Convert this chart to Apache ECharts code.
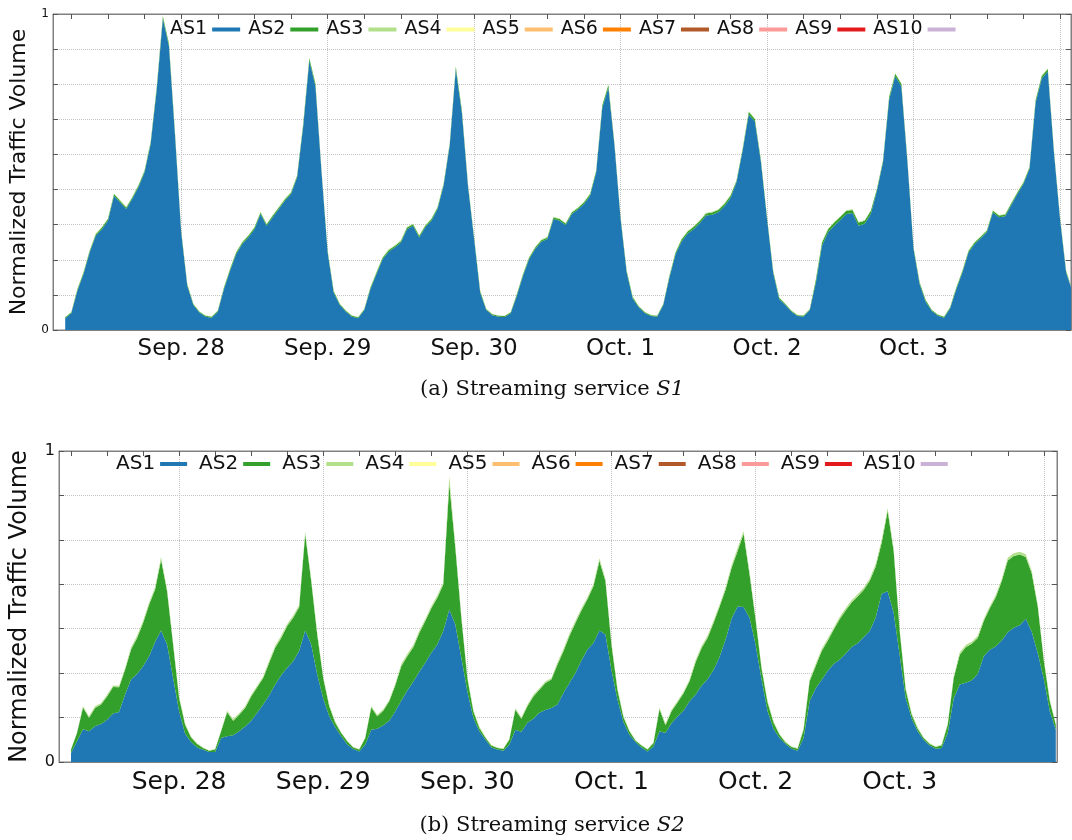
<!DOCTYPE html>
<html>
<head>
<meta charset="utf-8">
<script src="https://cdn.jsdelivr.net/npm/echarts@6/dist/echarts.min.js"></script>
<style>
  html, body { margin: 0; padding: 0; background: #fff; }
  #chart { width: 1072px; height: 840px; }
</style>
</head>
<body>
<div id="chart"></div>
<script>
// Legend names and the paired palette used for the ten origin ASes
const asNames = ['AS1', 'AS2', 'AS3', 'AS4', 'AS5', 'AS6', 'AS7', 'AS8', 'AS9', 'AS10'];
const asColors = ['#1f78b4', '#33a02c', '#b2df8a', '#ffff99', '#fdbf6f',
                  '#ff7f00', '#b15928', '#fb9a99', '#e31a1c', '#cab2d6'];

// Time axis: hours relative to Sep. 28 00:00
const dayLabels = ['Sep. 28', 'Sep. 29', 'Sep. 30', 'Oct. 1', 'Oct. 2', 'Oct. 3'];
const dayHours = [0, 24, 48, 72, 96, 120];
const gridHours = [0, 24, 48, 72, 96, 120, 144];
const quarterHours = [-18, -12, -6, 0, 6, 12, 18, 24, 30, 36, 42, 48, 54, 60, 66, 72, 78, 84,
                      90, 96, 102, 108, 114, 120, 126, 132, 138, 144];

// ---- Streaming service S1: hourly samples starting at hour -19 ----
const s1Start = -19;
const s1As1 = [
  0.037,0.053,0.124,0.177,0.245,0.298,0.319,0.346,0.425,0.404,
  0.383,0.415,0.452,0.499,0.589,0.761,0.985,0.898,0.613,0.309,
  0.140,0.079,0.055,0.042,0.039,0.058,0.129,0.187,0.240,0.272,
  0.293,0.319,0.367,0.330,0.357,0.383,0.409,0.430,0.483,0.645,
  0.852,0.771,0.499,0.245,0.118,0.079,0.058,0.042,0.037,0.063,
  0.129,0.177,0.224,0.248,0.261,0.277,0.319,0.330,0.293,0.325,
  0.346,0.383,0.457,0.584,0.825,0.687,0.455,0.288,0.118,0.063,
  0.047,0.042,0.041,0.053,0.108,0.171,0.224,0.256,0.279,0.288,
  0.351,0.346,0.332,0.367,0.381,0.399,0.425,0.499,0.703,0.767,
  0.584,0.351,0.182,0.099,0.071,0.053,0.044,0.042,0.079,0.166,
  0.240,0.280,0.305,0.320,0.339,0.362,0.365,0.373,0.392,0.418,
  0.468,0.568,0.682,0.660,0.531,0.351,0.182,0.097,0.079,0.058,
  0.044,0.043,0.063,0.150,0.267,0.309,0.330,0.348,0.367,0.370,
  0.330,0.336,0.367,0.441,0.531,0.729,0.803,0.771,0.531,0.256,
  0.145,0.089,0.060,0.045,0.039,0.069,0.129,0.182,0.245,0.272,
  0.290,0.309,0.372,0.357,0.360,0.395,0.430,0.462,0.510,0.719,
  0.795,0.818,0.563,0.351,0.182,0.124
];
const s1As2 = [
  0.003,0.003,0.005,0.005,0.005,0.005,0.005,0.005,0.005,0.005,
  0.005,0.005,0.005,0.005,0.005,0.008,0.008,0.008,0.008,0.005,
  0.005,0.003,0.003,0.003,0.003,0.003,0.005,0.005,0.005,0.005,
  0.005,0.005,0.005,0.005,0.005,0.005,0.005,0.005,0.005,0.008,
  0.008,0.008,0.005,0.005,0.005,0.003,0.003,0.003,0.003,0.003,
  0.005,0.005,0.005,0.005,0.005,0.005,0.005,0.005,0.005,0.005,
  0.005,0.005,0.005,0.005,0.008,0.008,0.005,0.005,0.005,0.003,
  0.003,0.003,0.003,0.003,0.005,0.005,0.005,0.005,0.005,0.005,
  0.005,0.005,0.005,0.005,0.005,0.005,0.005,0.005,0.008,0.008,
  0.005,0.005,0.005,0.005,0.003,0.003,0.003,0.003,0.003,0.005,
  0.005,0.007,0.007,0.007,0.007,0.007,0.007,0.007,0.007,0.007,
  0.005,0.005,0.008,0.008,0.005,0.005,0.005,0.005,0.003,0.003,
  0.003,0.003,0.003,0.010,0.010,0.010,0.010,0.010,0.010,0.010,
  0.010,0.010,0.010,0.005,0.005,0.008,0.008,0.008,0.005,0.005,
  0.005,0.005,0.003,0.003,0.003,0.003,0.005,0.005,0.005,0.005,
  0.005,0.005,0.005,0.005,0.005,0.005,0.005,0.005,0.005,0.008,
  0.008,0.008,0.005,0.005,0.005,0.005
];
const s1As3 = [
  0.001,0.001,0.002,0.002,0.002,0.002,0.002,0.002,0.002,0.002,
  0.002,0.002,0.002,0.002,0.002,0.002,0.002,0.002,0.002,0.002,
  0.002,0.001,0.001,0.001,0.001,0.001,0.002,0.002,0.002,0.002,
  0.002,0.002,0.002,0.002,0.002,0.002,0.002,0.002,0.002,0.002,
  0.002,0.002,0.002,0.002,0.002,0.001,0.001,0.001,0.001,0.001,
  0.002,0.002,0.002,0.002,0.002,0.002,0.002,0.002,0.002,0.002,
  0.002,0.002,0.002,0.002,0.002,0.002,0.002,0.002,0.002,0.001,
  0.001,0.001,0.001,0.001,0.002,0.002,0.002,0.002,0.002,0.002,
  0.002,0.002,0.002,0.002,0.002,0.002,0.002,0.002,0.002,0.002,
  0.002,0.002,0.002,0.002,0.001,0.001,0.001,0.001,0.001,0.002,
  0.002,0.002,0.002,0.002,0.002,0.002,0.002,0.002,0.002,0.002,
  0.002,0.002,0.002,0.002,0.002,0.002,0.002,0.002,0.001,0.001,
  0.001,0.001,0.001,0.002,0.002,0.002,0.002,0.002,0.002,0.002,
  0.002,0.002,0.002,0.002,0.002,0.002,0.002,0.002,0.002,0.002,
  0.002,0.002,0.001,0.001,0.001,0.001,0.002,0.002,0.002,0.002,
  0.002,0.002,0.002,0.002,0.002,0.002,0.002,0.002,0.002,0.002,
  0.002,0.002,0.002,0.002,0.002,0.002
];

// ---- Streaming service S2: hourly samples starting at hour -18 ----
const s2Start = -18;
const s2As1 = [
  0.029,0.067,0.105,0.099,0.115,0.122,0.136,0.156,0.161,0.217,
  0.265,0.283,0.308,0.340,0.386,0.423,0.378,0.270,0.163,0.091,
  0.064,0.047,0.039,0.032,0.032,0.077,0.083,0.086,0.099,0.114,
  0.133,0.158,0.185,0.215,0.249,0.279,0.303,0.324,0.358,0.423,
  0.378,0.281,0.204,0.147,0.112,0.083,0.056,0.042,0.034,0.056,
  0.104,0.107,0.118,0.133,0.163,0.197,0.230,0.258,0.290,0.319,
  0.351,0.378,0.421,0.490,0.442,0.335,0.227,0.142,0.099,0.072,
  0.047,0.040,0.036,0.056,0.104,0.097,0.126,0.139,0.158,0.167,
  0.174,0.185,0.222,0.254,0.286,0.326,0.362,0.383,0.423,0.410,
  0.296,0.201,0.129,0.088,0.064,0.047,0.034,0.050,0.099,0.093,
  0.125,0.146,0.165,0.195,0.216,0.245,0.266,0.296,0.338,0.393,
  0.461,0.500,0.498,0.464,0.378,0.265,0.163,0.106,0.077,0.058,
  0.043,0.036,0.077,0.195,0.236,0.264,0.293,0.315,0.329,0.348,
  0.370,0.382,0.401,0.421,0.464,0.541,0.549,0.480,0.343,0.206,
  0.139,0.099,0.071,0.053,0.043,0.045,0.093,0.204,0.249,0.255,
  0.262,0.283,0.340,0.361,0.371,0.391,0.417,0.432,0.440,0.461,
  0.418,0.350,0.268,0.163,0.104
];
const s2As2 = [
  0.011,0.026,0.070,0.043,0.059,0.063,0.075,0.085,0.079,0.080,
  0.097,0.116,0.139,0.166,0.169,0.227,0.171,0.108,0.043,0.029,
  0.015,0.011,0.006,0.004,0.008,0.022,0.077,0.047,0.053,0.060,
  0.078,0.082,0.085,0.104,0.118,0.120,0.134,0.140,0.140,0.309,
  0.204,0.129,0.066,0.032,0.014,0.010,0.011,0.005,0.006,0.021,
  0.071,0.040,0.047,0.062,0.084,0.111,0.110,0.111,0.125,0.134,
  0.143,0.150,0.150,0.403,0.247,0.129,0.043,0.021,0.010,0.007,
  0.006,0.005,0.006,0.016,0.064,0.042,0.053,0.072,0.074,0.087,
  0.091,0.128,0.134,0.151,0.161,0.161,0.161,0.182,0.223,0.172,
  0.082,0.031,0.015,0.011,0.005,0.006,0.006,0.011,0.071,0.025,
  0.038,0.045,0.056,0.065,0.104,0.121,0.133,0.151,0.161,0.161,
  0.163,0.178,0.236,0.139,0.080,0.035,0.028,0.020,0.011,0.005,
  0.005,0.007,0.027,0.065,0.072,0.092,0.096,0.110,0.130,0.139,
  0.143,0.150,0.152,0.161,0.164,0.164,0.258,0.198,0.078,0.027,
  0.013,0.008,0.006,0.005,0.005,0.009,0.027,0.066,0.096,0.114,
  0.118,0.116,0.113,0.133,0.159,0.191,0.231,0.230,0.227,0.198,
  0.188,0.149,0.058,0.032,0.016
];
const s2As3 = [
  0.002,0.002,0.005,0.005,0.005,0.005,0.005,0.005,0.005,0.005,
  0.007,0.007,0.007,0.007,0.007,0.009,0.007,0.007,0.005,0.005,
  0.002,0.002,0.002,0.002,0.002,0.002,0.005,0.005,0.005,0.005,
  0.005,0.005,0.005,0.007,0.007,0.007,0.007,0.007,0.007,0.009,
  0.007,0.007,0.005,0.005,0.005,0.002,0.002,0.002,0.002,0.002,
  0.005,0.005,0.005,0.005,0.005,0.007,0.007,0.007,0.007,0.007,
  0.007,0.007,0.007,0.025,0.009,0.007,0.005,0.005,0.005,0.002,
  0.002,0.002,0.002,0.002,0.005,0.005,0.005,0.005,0.005,0.005,
  0.005,0.007,0.007,0.007,0.007,0.007,0.007,0.007,0.009,0.007,
  0.007,0.005,0.005,0.002,0.002,0.002,0.002,0.002,0.005,0.005,
  0.005,0.005,0.005,0.005,0.007,0.007,0.007,0.007,0.007,0.007,
  0.009,0.009,0.009,0.009,0.007,0.005,0.005,0.005,0.002,0.002,
  0.002,0.002,0.005,0.005,0.007,0.007,0.007,0.007,0.007,0.007,
  0.007,0.007,0.007,0.007,0.009,0.009,0.009,0.009,0.007,0.005,
  0.005,0.005,0.002,0.002,0.002,0.002,0.005,0.005,0.007,0.007,
  0.007,0.007,0.007,0.007,0.007,0.007,0.009,0.009,0.009,0.009,
  0.009,0.007,0.007,0.005,0.005
];

const FONT = 'DejaVu Sans';
const FRAME = '#808080';
const TICK = '#555555';
const GRIDLINE = '#c4c4c4';

const ninths = Array.from({ length: 10 }, (_, i) => i / 9);
const sevenths = Array.from({ length: 8 }, (_, i) => i / 7);

const panels = [
  {
    grid: { left: 53, top: 14, right: 1, bottom: 510 },
    xMin: -21, xMax: 145.8, yTicks: ninths,
    start: s1Start, layers: [s1As1, s1As2, s1As3], stack: 's1',
    yLabelFont: 12, dayFont: 23, dayMargin: 8, nameFont: 22, nameGap: 22,
    legend: { left: 170, top: 20, fontSize: 19, itemWidth: 28, itemGap: 8 }
  },
  {
    grid: { left: 58, top: 451, right: 15, bottom: 78 },
    xMin: -20, xMax: 146.2, yTicks: sevenths,
    start: s2Start, layers: [s2As1, s2As2, s2As3], stack: 's2',
    yLabelFont: 16, dayFont: 25, dayMargin: 8, nameFont: 24, nameGap: 27,
    legend: { left: 116, top: 454, fontSize: 20, itemWidth: 27, itemGap: 12 }
  }
];

const grids = [], xAxes = [], yAxes = [], series = [], legends = [];

panels.forEach((p, k) => {
  grids.push(Object.assign({ show: true, borderColor: FRAME, borderWidth: 1, containLabel: false }, p.grid));

  const baseX = { gridIndex: k, type: 'value', min: p.xMin, max: p.xMax };
  const tickStyle = { show: true, inside: true, length: 5, customValues: quarterHours, lineStyle: { color: TICK } };
  // bottom axis: 6-hour ticks, day labels
  xAxes.push(Object.assign({}, baseX, {
    position: 'bottom',
    axisLine: { show: true, onZero: false, lineStyle: { color: FRAME, width: 1 } },
    axisTick: tickStyle,
    axisLabel: {
      customValues: dayHours, margin: p.dayMargin,
      fontFamily: FONT, fontSize: p.dayFont, color: '#111',
      formatter: v => dayLabels[dayHours.indexOf(v)] || ''
    },
    splitLine: { show: false }
  }));
  // top frame axis with the same ticks
  xAxes.push(Object.assign({}, baseX, {
    position: 'top',
    axisLine: { show: true, onZero: false, lineStyle: { color: FRAME, width: 1 } },
    axisTick: tickStyle,
    axisLabel: { show: false },
    splitLine: { show: false }
  }));
  // day grid lines
  xAxes.push(Object.assign({}, baseX, {
    position: 'bottom',
    axisLine: { show: false, onZero: false },
    axisTick: { show: false, customValues: gridHours },
    axisLabel: { show: false },
    splitLine: { show: true, lineStyle: { type: 'dotted', color: GRIDLINE, width: 1 } }
  }));

  yAxes.push({
    gridIndex: k, type: 'value', min: 0, max: 1, position: 'left',
    name: 'Normalized Traffic Volume', nameLocation: 'middle', nameGap: p.nameGap,
    nameTextStyle: { fontFamily: FONT, fontSize: p.nameFont, color: '#111' },
    axisLine: { show: true, onZero: false, lineStyle: { color: FRAME, width: 1 } },
    axisTick: { show: true, inside: true, length: 5, customValues: p.yTicks, lineStyle: { color: TICK } },
    axisLabel: { customValues: [0, 1], margin: 4, fontFamily: FONT, fontSize: p.yLabelFont, color: '#111',
                 formatter: v => String(Math.round(v)) },
    splitLine: { show: true, lineStyle: { type: 'dotted', color: GRIDLINE, width: 1 } }
  });
  yAxes.push({
    gridIndex: k, type: 'value', min: 0, max: 1, position: 'right',
    axisLine: { show: true, onZero: false, lineStyle: { color: FRAME, width: 1 } },
    axisTick: { show: true, inside: true, length: 5, customValues: p.yTicks, lineStyle: { color: TICK } },
    axisLabel: { show: false },
    splitLine: { show: false }
  });

  asNames.forEach((name, i) => {
    const vals = p.layers[i] || [];
    // value column first so the stack accumulates traffic volume, hour second
    series.push({
      name, type: 'line', stack: p.stack,
      xAxisIndex: 3 * k, yAxisIndex: 2 * k,
      dimensions: ['volume', 'hour'],
      encode: { x: 1, y: 0 },
      data: vals.map((v, j) => [v, p.start + j]),
      color: asColors[i],
      symbol: 'none', showSymbol: false,
      lineStyle: { width: 0 },
      areaStyle: { color: asColors[i], opacity: 1 },
      emphasis: { disabled: true },
      animation: false
    });
  });

  legends.push({
    data: asNames, left: p.legend.left, top: p.legend.top, orient: 'horizontal',
    align: 'right', icon: 'rect', itemWidth: p.legend.itemWidth, itemHeight: 4,
    itemGap: p.legend.itemGap, padding: 0, selectedMode: false,
    textStyle: { fontFamily: FONT, fontSize: p.legend.fontSize, color: '#111' }
  });
});

const caption = (text, y) => ({
  type: 'text', x: 552, y,
  style: {
    text, fontFamily: 'DejaVu Serif', fontSize: 21, fill: '#111',
    align: 'center', verticalAlign: 'middle',
    rich: { i: { fontFamily: 'DejaVu Serif', fontSize: 21, fontStyle: 'italic', fill: '#111' } }
  }
});

const chart = echarts.init(document.getElementById('chart'));
chart.setOption({
  animation: false,
  backgroundColor: '#ffffff',
  grid: grids,
  xAxis: xAxes,
  yAxis: yAxes,
  legend: legends,
  series,
  graphic: [
    caption('(a) Streaming service {i|S1}', 390),
    caption('(b) Streaming service {i|S2}', 826)
  ]
});
</script>
</body>
</html>
